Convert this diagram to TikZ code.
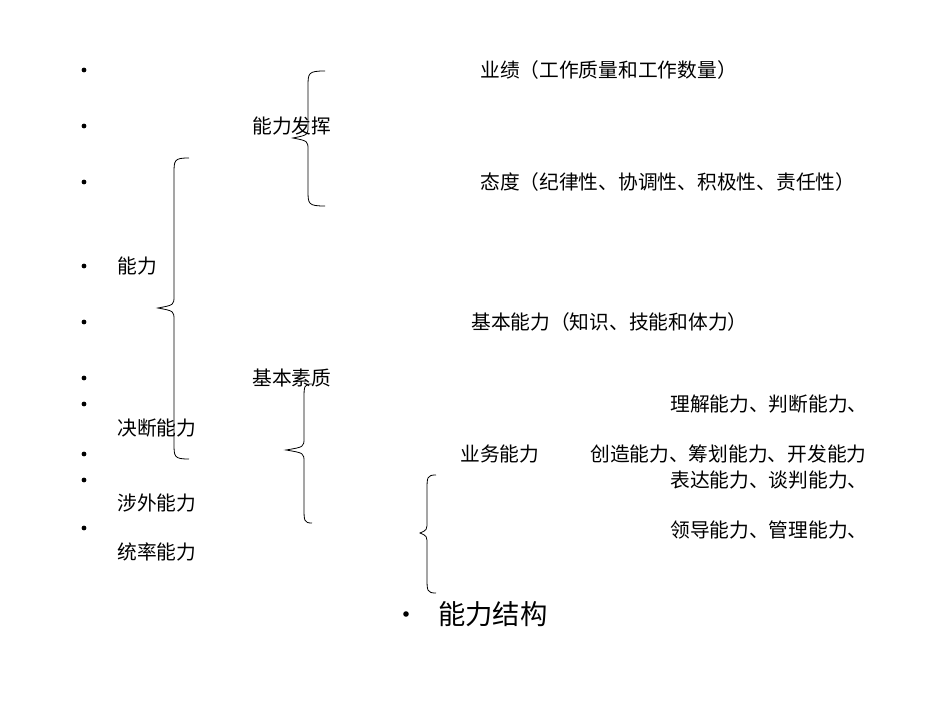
\documentclass[tikz,border=0pt]{standalone}
\usepackage{fontspec}
\newfontfamily\cjk{Noto Sans CJK SC}
\usetikzlibrary{positioning}
\tikzset{
  item/.style={anchor=west, inner sep=0pt, font=\cjk\fontsize{14.8}{17}\selectfont},
  dot/.style={circle, fill, inner sep=0pt, minimum size=3.6pt},
  bigitem/.style={anchor=west, inner sep=0pt, font=\cjk\fontsize{20.5}{24}\selectfont}
}
\begin{document}
\begin{tikzpicture}[x=0.75pt, y=-0.75pt]
\useasboundingbox (0,0) rectangle (950,713);
% bullets of the left column
\foreach \yy [count=\i] in {70,126,182,266,322,378,404,454,480,528} {
  \node[dot] (b\i) at (84,\yy) {};
}
% texts
\node[item] (yeji) at (480,70) {业绩（工作质量和工作数量）};
\node[item] (fahui) at (252,126) {能力发挥};
\node[item] (taidu) at (480,182) {态度（纪律性、协调性、积极性、责任性）};
\node[item] (nengli) at (117,266) {能力};
\node[item] (jiben) at (471,322) {基本能力（知识、技能和体力）};
\node[item] (suzhi) at (252,378) {基本素质};
\node[item] (lijie) at (670,404) {理解能力、判断能力、};
\node[item] (jueduan) at (117,428) {决断能力};
\node[item] (yewu) at (460,454) {业务能力};
\node[item] (chuangzao) at (590,454) {创造能力、筹划能力、开发能力};
\node[item] (biaoda) at (670,480) {表达能力、谈判能力、};
\node[item] (shewai) at (117,503) {涉外能力};
\node[item] (lingdao) at (670,530) {领导能力、管理能力、};
\node[item] (tongshuai) at (117,552) {统率能力};
% title
\node[dot, minimum size=4.2pt] (tdot) at (406,614) {};
\node[bigitem] (title) at (438,614) {能力结构};
% braces: tip x / line x / end x / top y / tip y / bottom y
\foreach \xt/\xv/\xe/\ya/\ym/\yb in {293/308/325/71/138/206, 158/174/189/158/308/459,
                                     286/304/312/384/450/523, 420/427/436/475/533/593} {
  \draw[line width=0.6pt] (\xe,\ya) .. controls (\xv,\ya) and (\xv,\ya+2) .. (\xv,\ya+16)
    -- (\xv,\ym-12) .. controls (\xv,\ym-3) .. (\xt,\ym)
    .. controls (\xv,\ym+3) .. (\xv,\ym+12)
    -- (\xv,\yb-16) .. controls (\xv,\yb-2) and (\xv,\yb) .. (\xe,\yb);
}
\end{tikzpicture}
\end{document}
